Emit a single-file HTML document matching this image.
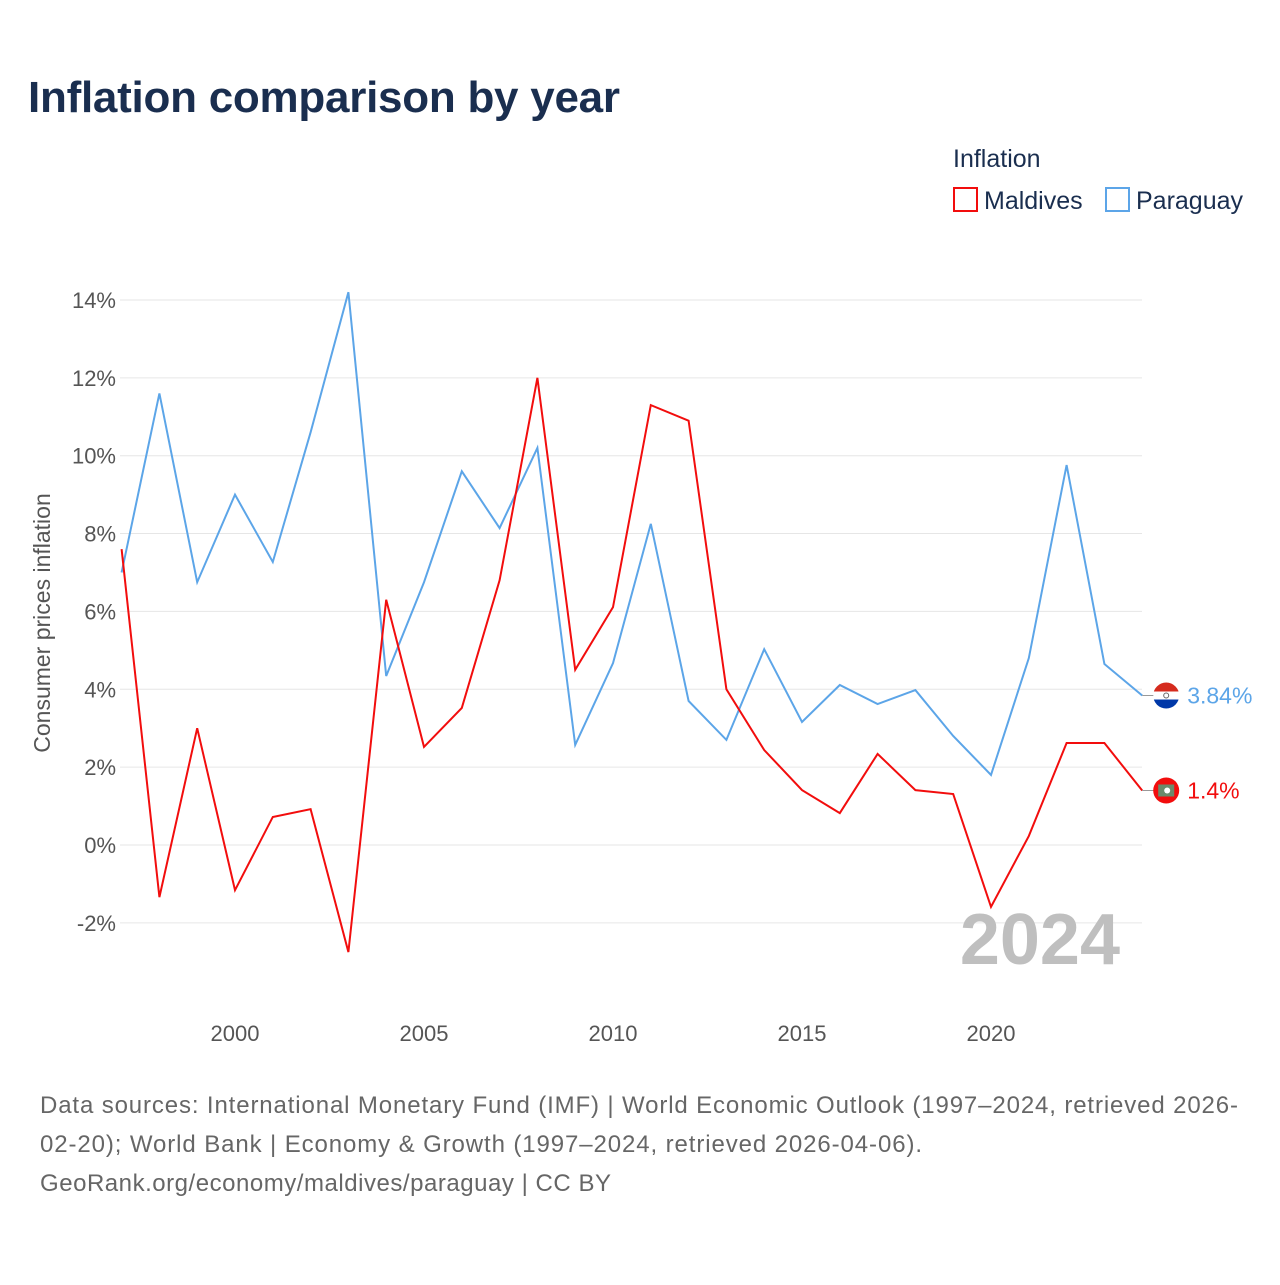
<!DOCTYPE html>
<html><head><meta charset="utf-8"><style>
body{margin:0;background:#fff;font-family:"Liberation Sans",sans-serif}
svg text{font-family:"Liberation Sans",sans-serif}
</style></head><body>
<svg id="chart" width="1280" height="1280" viewBox="0 0 1280 1280">
<defs><clipPath id="fc1"><circle cx="1166" cy="695.5" r="13"/></clipPath></defs>
<text x="28" y="112" font-size="44" font-weight="bold" fill="#1a2e4f" textLength="592">Inflation comparison by year</text>
<text x="953" y="167" font-size="25" fill="#1a2e4f">Inflation</text>
<g><rect x="954" y="188" width="23" height="23" fill="none" stroke="#f20d0d" stroke-width="2"/><text x="984" y="209" font-size="25" fill="#1a2e4f">Maldives</text></g>
<g><rect x="1106" y="188" width="23" height="23" fill="none" stroke="#5ca5e8" stroke-width="2"/><text x="1136" y="209" font-size="25" fill="#1a2e4f">Paraguay</text></g>
<g id="grid"></g><g id="xt"></g><g id="lines"></g>
<text transform="translate(50,623) rotate(-90)" text-anchor="middle" font-size="23" fill="#555">Consumer prices inflation</text>
<text x="1120" y="964" text-anchor="end" font-size="72" font-weight="bold" fill="#bfbfbf">2024</text>
<text font-size="24" fill="#666"><tspan x="40" y="1113" textLength="1198">Data sources: International Monetary Fund (IMF) | World Economic Outlook (1997–2024, retrieved 2026-</tspan><tspan x="40" y="1152" textLength="882">02-20); World Bank | Economy &amp; Growth (1997–2024, retrieved 2026-04-06).</tspan><tspan x="40" y="1191" textLength="571">GeoRank.org/economy/maldives/paraguay | CC BY</tspan></text>
</svg>
<script>
const years=[1997,1998,1999,2000,2001,2002,2003,2004,2005,2006,2007,2008,2009,2010,2011,2012,2013,2014,2015,2016,2017,2018,2019,2020,2021,2022,2023,2024];
const maldives=[7.6,-1.34,3.0,-1.16,0.72,0.92,-2.75,6.3,2.52,3.52,6.8,12.0,4.5,6.11,11.3,10.9,4.0,2.44,1.41,0.82,2.34,1.41,1.31,-1.59,0.23,2.62,2.62,1.4];
const paraguay=[7.0,11.6,6.75,9.0,7.27,10.6,14.2,4.34,6.75,9.6,8.14,10.2,2.57,4.67,8.25,3.7,2.7,5.03,3.16,4.11,3.62,3.98,2.8,1.8,4.8,9.76,4.65,3.84];
const yTicks=[-2,0,2,4,6,8,10,12,14];
const xTicks=[2000,2005,2010,2015,2020];
const X=y=>121.6+(y-1997)*37.8;
const Y=v=>845-v*38.93;
const NS='http://www.w3.org/2000/svg';
function mk(t,a,p){const e=document.createElementNS(NS,t);for(const k in a)e.setAttribute(k,a[k]);p.appendChild(e);return e;}
const grid=document.getElementById('grid'),xt=document.getElementById('xt'),lines=document.getElementById('lines');
yTicks.forEach(v=>{
 const l=mk('line',{x1:120,x2:1142,y1:Y(v),y2:Y(v),stroke:'#e6e6e6','stroke-width':1},grid);
 
 
 const t=mk('text',{x:116,y:Y(v)+8,'text-anchor':'end','font-size':22,fill:'#555'},grid);
 t.textContent=v+'%';
 
 
});
xTicks.forEach(v=>{
 const t=mk('text',{x:X(v),y:1041,'text-anchor':'middle','font-size':22,fill:'#555'},xt);
 t.textContent=v;
 
 
});
function series(vals,color,name,label,flag){
 const p=mk('polyline',{points:vals.map((v,i)=>X(years[i])+','+Y(v)).join(' '),fill:'none',stroke:color,'stroke-width':2},lines);
 
 
 const last=vals[vals.length-1],lx=X(years[years.length-1]),cy=Y(last),cx=lx+24;
 mk('line',{x1:lx,x2:lx+12,y1:cy,y2:cy,stroke:'#999'},lines);
 const g=mk('g',{},lines);
 
 
 if(flag==='py'){
  const cp=mk('clipPath',{id:'cp-'+name},g);mk('circle',{cx:cx,cy:cy,r:13},cp);
  const gg=mk('g',{'clip-path':'url(#cp-'+name+')'},g);
  mk('rect',{x:cx-13,y:cy-13,width:26,height:9,fill:'#d52b1e'},gg);
  mk('rect',{x:cx-13,y:cy-4,width:26,height:8,fill:'#fff'},gg);
  mk('rect',{x:cx-13,y:cy+4,width:26,height:9,fill:'#0038a8'},gg);
  mk('circle',{cx:cx,cy:cy,r:2.5,fill:'none',stroke:'#666','stroke-width':1},gg);
 } else {
  mk('circle',{cx:cx,cy:cy,r:13,fill:'#f20d0d'},g);
  mk('rect',{x:cx-8,y:cy-6,width:16,height:12,fill:'#6b8a6b'},g);
  mk('circle',{cx:cx+1,cy:cy,r:3,fill:'#fff'},g);
 }
 const t=mk('text',{x:lx+45,y:cy+8,'font-size':23,fill:color},lines);
 t.textContent=label;
 
 
}
series(paraguay,'#5ca5e8','paraguay','3.84%','py');
series(maldives,'#f20d0d','maldives','1.4%','mv');
</script>
</body></html>
